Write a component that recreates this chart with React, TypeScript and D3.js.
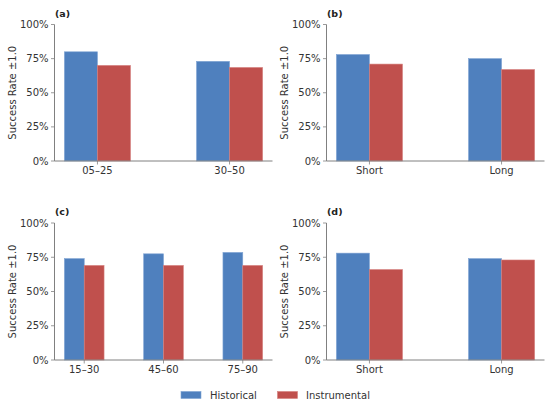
import React from "react";
import * as d3 from "d3";

const seriesNames = ["Historical", "Instrumental"];
const colors = ["#4f80be", "#c0504d"];
const edgeColors = ["#7fa3d3", "#d57f7c"];

const catsA = ["05–25", "30–50"];
const histA = [0.80, 0.73];
const instA = [0.70, 0.685];

const catsB = ["Short", "Long"];
const histB = [0.78, 0.75];
const instB = [0.71, 0.67];

const catsC = ["15–30", "45–60", "75–90"];
const histC = [0.74, 0.775, 0.785];
const instC = [0.69, 0.69, 0.69];

const catsD = ["Short", "Long"];
const histD = [0.78, 0.74];
const instD = [0.66, 0.73];

const yTicks = [0, 0.25, 0.5, 0.75, 1.0];
const panelLabels = ["(a)", "(b)", "(c)", "(d)"];
const yLabel = "Success Rate ±1.0";

const FONT = "'DejaVu Sans', sans-serif";
const AXIS = "#808080";
const TEXT = "#333333";

type PanelProps = {
  x0: number; x1: number; yTop: number; yBot: number;
  cats: string[]; hist: number[]; inst: number[]; label: string;
};

function Panel({ x0, x1, yTop, yBot, cats, hist, inst, label }: PanelProps) {
  const n = cats.length;
  const w = 0.25;
  const span = n - 1 + 2 * w;
  const m = 0.05 * span;
  const x = d3.scaleLinear().domain([-w - m, n - 1 + w + m]).range([x0, x1]);
  const y = d3.scaleLinear().domain([0, 1]).range([yBot, yTop]);
  const fmt = d3.format(".0%");
  const series = [hist, inst];
  return (
    <g>
      {series.map((vals, s) =>
        vals.map((v, i) => {
          const left = x(i - w + s * w);
          const right = x(i + s * w);
          return (
            <rect
              key={`${s}-${i}`}
              x={left}
              y={y(v)}
              width={right - left}
              height={y(0) - y(v)}
              fill={colors[s]}
              stroke={edgeColors[s]}
              strokeWidth={0.6}
            />
          );
        })
      )}
      <line x1={x0} x2={x0} y1={yTop} y2={yBot} stroke={AXIS} strokeWidth={1} />
      <line x1={x0} x2={x1} y1={yBot} y2={yBot} stroke={AXIS} strokeWidth={1} />
      {yTicks.map((t) => (
        <g key={t}>
          <line x1={x0 - 3.5} x2={x0} y1={y(t)} y2={y(t)} stroke={AXIS} strokeWidth={0.8} />
          <text x={x0 - 6} y={y(t)} dy="0.35em" textAnchor="end" fontSize={10} fill={TEXT} fontFamily={FONT}>
            {fmt(t)}
          </text>
        </g>
      ))}
      {cats.map((c, i) => (
        <g key={c}>
          <line x1={x(i)} x2={x(i)} y1={yBot} y2={yBot + 3.5} stroke={AXIS} strokeWidth={0.8} />
          <text x={x(i)} y={yBot + 13} textAnchor="middle" fontSize={10} fill={TEXT} fontFamily={FONT}>
            {c}
          </text>
        </g>
      ))}
      <text
        transform={`translate(${x0 - 42.5},${(yTop + yBot) / 2}) rotate(-90)`}
        textAnchor="middle"
        dy="0.35em"
        fontSize={10}
        fill={TEXT}
        fontFamily={FONT}
      >
        {yLabel}
      </text>
      <text x={x0 + 0.5} y={yTop - 8} fontSize={9.5} fontWeight="bold" fill="#222" fontFamily={FONT}>
        {label}
      </text>
    </g>
  );
}

export default function App() {
  const L = [54.5, 272.5];
  const R = [326.5, 544.5];
  const T = [24.5, 161];
  const B = [223, 360];
  return (
    <svg width={550} height={407} style={{ position: "absolute", left: 0, top: 0, background: "#fff" }}>
      <rect width={550} height={407} fill="#fff" />
      <Panel x0={L[0]} x1={L[1]} yTop={T[0]} yBot={T[1]} cats={catsA} hist={histA} inst={instA} label={panelLabels[0]} />
      <Panel x0={R[0]} x1={R[1]} yTop={T[0]} yBot={T[1]} cats={catsB} hist={histB} inst={instB} label={panelLabels[1]} />
      <Panel x0={L[0]} x1={L[1]} yTop={B[0]} yBot={B[1]} cats={catsC} hist={histC} inst={instC} label={panelLabels[2]} />
      <Panel x0={R[0]} x1={R[1]} yTop={B[0]} yBot={B[1]} cats={catsD} hist={histD} inst={instD} label={panelLabels[3]} />
      <g>
        <rect x={181} y={391.5} width={20} height={7} fill={colors[0]} stroke={edgeColors[0]} strokeWidth={0.6} />
        <text x={210} y={398.5} fontSize={10} fill={TEXT} fontFamily={FONT}>{seriesNames[0]}</text>
        <rect x={277.5} y={391.5} width={20} height={7} fill={colors[1]} stroke={edgeColors[1]} strokeWidth={0.6} />
        <text x={306} y={398.5} fontSize={10} fill={TEXT} fontFamily={FONT}>{seriesNames[1]}</text>
      </g>
    </svg>
  );
}
